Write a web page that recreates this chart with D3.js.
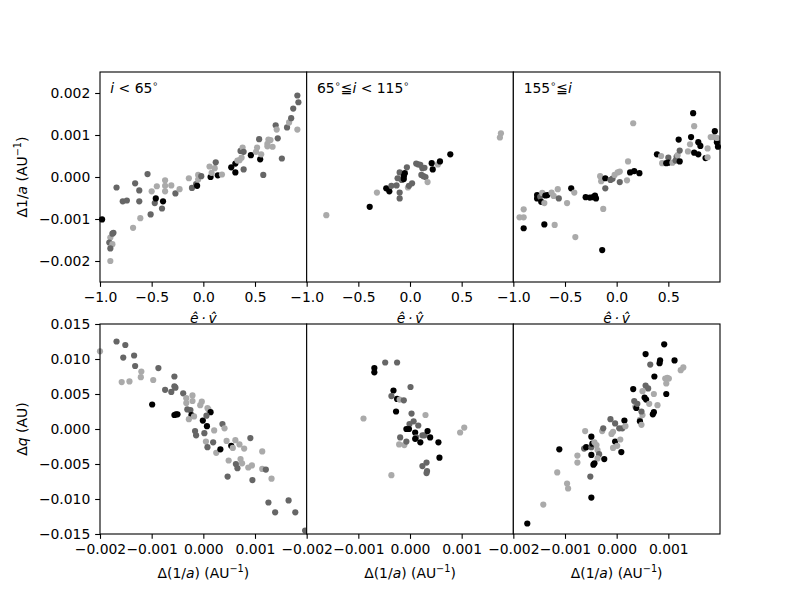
<!DOCTYPE html>
<html>
<head>
<meta charset="utf-8">
<script src="https://cdn.jsdelivr.net/npm/d3@7"></script>
<style>
  body { margin: 0; background: #fff; }
  text { font-family: "DejaVu Sans", sans-serif; }
</style>
</head>
<body>
<div id="chart"></div>
<script>
// groups: k = black, d = dark grey, l = light grey
const groupColors = { k: "#000000", d: "#666666", l: "#aaaaaa" };

// top row: e.v (x) vs delta 1/a (y)
const topLow = [
  [-0.98,-0.00101,"k"],[-0.90,-0.00144,"l"],[-0.87,-0.00133,"d"],[-0.88,-0.00135,"d"],
  [-0.91,-0.00156,"d"],[-0.88,-0.00160,"l"],[-0.90,-0.00170,"d"],[-0.90,-0.00200,"l"],
  [-0.84,-0.00025,"d"],[-0.78,-0.00058,"d"],[-0.74,-0.00056,"d"],[-0.68,-0.00121,"l"],
  [-0.66,-0.00015,"d"],[-0.62,-0.00032,"d"],[-0.62,-0.00058,"d"],[-0.61,-0.00098,"l"],
  [-0.54,0.00007,"d"],[-0.51,-0.00089,"d"],[-0.50,-0.00034,"l"],[-0.47,-0.00062,"d"],
  [-0.46,-0.00051,"k"],[-0.45,-0.00022,"l"],[-0.40,-0.00075,"d"],[-0.39,-0.00058,"k"],
  [-0.37,-0.00008,"l"],[-0.37,-0.00021,"l"],[-0.37,-0.00034,"l"],[-0.31,-0.00020,"l"],
  [-0.27,-0.00039,"d"],[-0.23,-0.00029,"l"],[-0.14,-0.00003,"l"],[-0.11,-0.00026,"d"],
  [-0.07,-0.00017,"d"],[-0.06,-0.00021,"k"],[-0.05,0.00005,"l"],[-0.05,-0.00006,"l"],
  [-0.02,0.00002,"d"],[0.06,0.00025,"l"],[0.07,0.00000,"k"],[0.08,0.00010,"l"],
  [0.11,0.00021,"l"],[0.12,0.00035,"d"],[0.14,0.00004,"k"],[0.18,0.00006,"l"],
  [0.27,0.00023,"k"],[0.31,0.00032,"k"],[0.31,0.00011,"k"],[0.33,0.00039,"l"],
  [0.35,0.00040,"l"],[0.36,0.00062,"d"],[0.37,0.00046,"l"],[0.38,0.00070,"l"],
  [0.39,0.00018,"d"],[0.39,0.00060,"d"],[0.46,0.00052,"k"],[0.51,0.00060,"l"],
  [0.52,0.00070,"l"],[0.54,0.00090,"d"],[0.55,0.00042,"k"],[0.56,0.00054,"l"],
  [0.58,0.00005,"d"],[0.62,0.00079,"l"],[0.63,0.00089,"l"],[0.65,0.00088,"l"],
  [0.62,0.00073,"l"],[0.67,0.00072,"l"],[0.70,0.00123,"d"],[0.71,0.00113,"l"],
  [0.72,0.00092,"d"],[0.76,0.00044,"d"],[0.81,0.00118,"d"],[0.83,0.00130,"l"],
  [0.85,0.00140,"d"],[0.87,0.00163,"d"],[0.91,0.00113,"l"],[0.91,0.00194,"d"],
  [0.92,0.00178,"d"]
];
const topMid = [
  [-0.81,-0.00091,"l"],[-0.39,-0.00071,"k"],[-0.32,-0.00037,"l"],[-0.23,-0.00027,"k"],
  [-0.20,-0.00034,"k"],[-0.18,-0.00021,"d"],[-0.13,-0.00020,"d"],[-0.12,-0.00003,"d"],
  [-0.10,0.00011,"d"],[-0.10,-0.00037,"d"],[-0.10,-0.00051,"d"],[-0.08,-0.00007,"d"],
  [-0.06,-0.00005,"k"],[-0.06,0.00002,"k"],[-0.05,0.00009,"k"],[-0.03,0.00023,"d"],
  [-0.02,-0.00025,"l"],[-0.01,-0.00021,"d"],[0.02,-0.00015,"d"],[0.06,0.00032,"d"],
  [0.08,0.00030,"d"],[0.10,0.00029,"d"],[0.12,0.00021,"d"],[0.14,0.00022,"d"],
  [0.11,0.00005,"d"],[0.13,0.00002,"d"],[0.15,0.00000,"d"],[0.17,-0.00012,"l"],
  [0.21,0.00033,"k"],[0.22,0.00018,"k"],[0.27,0.00030,"l"],[0.29,0.00037,"k"],
  [0.39,0.00054,"k"],[0.88,0.00104,"l"],[0.87,0.00094,"l"]
];
const topHigh = [
  [-0.94,-0.00096,"l"],[-0.90,-0.00096,"l"],[-0.90,-0.00077,"l"],[-0.90,-0.00122,"k"],
  [-0.77,-0.00043,"k"],[-0.77,-0.00051,"k"],[-0.74,-0.00047,"d"],[-0.73,-0.00059,"k"],
  [-0.72,-0.00038,"l"],[-0.70,-0.00062,"l"],[-0.69,-0.00044,"k"],[-0.67,-0.00043,"k"],
  [-0.70,-0.00113,"k"],[-0.63,-0.00037,"l"],[-0.61,-0.00045,"l"],[-0.60,-0.00114,"l"],
  [-0.57,-0.00029,"l"],[-0.56,-0.00051,"d"],[-0.48,-0.00062,"l"],[-0.44,-0.00027,"k"],
  [-0.41,-0.00037,"l"],[-0.40,-0.00143,"l"],[-0.30,-0.00048,"k"],[-0.26,-0.00049,"k"],
  [-0.23,-0.00048,"k"],[-0.21,-0.00044,"k"],[-0.20,-0.00051,"k"],[-0.16,0.00002,"l"],
  [-0.15,-0.00010,"l"],[-0.14,-0.00174,"k"],[-0.13,-0.00076,"l"],[-0.11,-0.00003,"k"],
  [-0.11,-0.00027,"d"],[-0.06,-0.00007,"d"],[-0.04,-0.00004,"d"],[-0.02,0.00005,"l"],
  [0.01,0.00011,"l"],[0.03,0.00013,"l"],[0.03,-0.00012,"d"],[0.10,-0.00008,"l"],
  [0.11,0.00037,"l"],[0.13,0.00011,"k"],[0.17,0.00014,"k"],[0.16,0.00128,"l"],
  [0.22,0.00009,"k"],[0.39,0.00054,"k"],[0.43,0.00050,"l"],[0.44,0.00033,"l"],
  [0.48,0.00033,"k"],[0.50,0.00046,"d"],[0.50,0.00034,"k"],[0.54,0.00034,"l"],
  [0.57,0.00039,"d"],[0.58,0.00048,"d"],[0.59,0.00052,"l"],[0.61,0.00037,"k"],
  [0.60,0.00089,"k"],[0.61,0.00063,"d"],[0.69,0.00061,"l"],[0.71,0.00078,"l"],
  [0.72,0.00095,"k"],[0.74,0.00152,"k"],[0.75,0.00121,"l"],[0.75,0.00058,"k"],
  [0.79,0.00054,"k"],[0.79,0.00083,"k"],[0.81,0.00074,"k"],[0.86,0.00045,"k"],
  [0.88,0.00047,"l"],[0.88,0.00068,"l"],[0.91,0.00095,"l"],[0.94,0.00095,"l"],
  [0.95,0.00109,"k"],[0.97,0.00083,"k"],[0.98,0.00072,"k"],[0.97,0.00093,"l"]
];

// bottom row: delta 1/a (x) vs delta q (y)
const bottomLow = [
  [-0.00200,0.0111,"l"],[-0.00168,0.0125,"d"],[-0.00151,0.0120,"d"],[-0.00155,0.0102,"d"],
  [-0.00134,0.0105,"d"],[-0.00132,0.0090,"d"],[-0.00120,0.0082,"l"],[-0.00121,0.0074,"l"],
  [-0.00158,0.0067,"l"],[-0.00143,0.0068,"l"],[-0.00097,0.0070,"l"],[-0.00087,0.0087,"d"],
  [-0.00099,0.0035,"k"],[-0.00074,0.0056,"d"],[-0.00062,0.0053,"d"],[-0.00056,0.0075,"d"],
  [-0.00056,0.0061,"d"],[-0.00054,0.0059,"d"],[-0.00056,0.0020,"k"],[-0.00053,0.0021,"k"],
  [-0.00050,0.0021,"k"],[-0.00039,0.0051,"d"],[-0.00033,0.0044,"l"],[-0.00033,0.0037,"l"],
  [-0.00031,0.0028,"d"],[-0.00025,0.0027,"d"],[-0.00021,0.0048,"l"],[-0.00021,0.0040,"l"],
  [-0.00023,0.0020,"k"],[-0.00018,0.0018,"l"],[-0.00028,0.0014,"l"],[-0.00016,-0.0003,"d"],
  [-0.00014,-0.0009,"d"],[-0.00006,0.0034,"l"],[-0.00003,0.0039,"l"],[-0.00001,0.0012,"k"],
  [0.00002,-0.0006,"d"],[0.00007,0.0004,"k"],[0.00008,0.0030,"l"],[0.00010,0.0028,"l"],
  [0.00014,0.0024,"k"],[0.00006,0.0019,"d"],[0.00005,-0.0018,"l"],[0.00008,-0.0026,"d"],
  [0.00019,-0.0019,"d"],[0.00021,-0.0002,"l"],[0.00025,-0.0034,"l"],[0.00033,-0.0029,"k"],
  [0.00037,0.0007,"d"],[0.00041,0.0001,"l"],[0.00045,-0.0017,"l"],[0.00049,-0.0045,"l"],
  [0.00047,-0.0068,"d"],[0.00054,-0.0024,"k"],[0.00057,-0.0027,"l"],[0.00062,-0.0016,"l"],
  [0.00063,-0.0050,"d"],[0.00066,-0.0056,"d"],[0.00070,-0.0022,"l"],[0.00072,-0.0043,"l"],
  [0.00075,-0.0049,"l"],[0.00079,-0.0028,"l"],[0.00087,-0.0055,"l"],[0.00094,-0.0052,"l"],
  [0.00091,-0.0013,"d"],[0.00095,-0.0073,"d"],[0.00114,-0.0032,"l"],[0.00114,-0.0057,"l"],
  [0.00121,-0.0058,"d"],[0.00132,-0.0071,"l"],[0.00126,-0.0105,"d"],[0.00139,-0.0119,"d"],
  [0.00165,-0.0102,"d"],[0.00178,-0.0119,"d"],[0.00197,-0.0145,"d"]
];
const bottomMid = [
  [-0.00090,0.0015,"l"],[-0.00069,0.0087,"k"],[-0.00069,0.0081,"k"],[-0.00048,0.0095,"d"],
  [-0.00025,0.0095,"d"],[-0.00032,0.0055,"k"],[-0.00036,0.0047,"d"],[-0.00025,0.0043,"k"],
  [-0.00020,0.0042,"l"],[-0.00012,0.0041,"d"],[-0.00027,0.0025,"k"],[0.00001,0.0060,"d"],
  [0.00003,0.0022,"d"],[0.00007,0.0011,"d"],[-0.00001,0.0007,"d"],[-0.00007,0.0000,"k"],
  [-0.00002,0.0000,"k"],[0.00016,0.0005,"d"],[0.00010,-0.0005,"k"],[0.00012,-0.0012,"d"],
  [0.00010,-0.0014,"k"],[0.00020,-0.0019,"k"],[0.00024,-0.0009,"d"],[0.00028,-0.0009,"d"],
  [0.00030,0.0020,"l"],[0.00034,-0.0003,"k"],[0.00039,-0.0012,"k"],[-0.00019,-0.0012,"d"],
  [-0.00021,-0.0022,"l"],[-0.00011,-0.0023,"l"],[-0.00007,-0.0018,"d"],[0.00055,-0.0019,"k"],
  [0.00057,-0.0041,"k"],[0.00024,-0.0053,"d"],[0.00032,-0.0048,"d"],[0.00033,-0.0060,"d"],
  [0.00032,-0.0063,"d"],[-0.00036,-0.0066,"l"],[0.00097,-0.0005,"l"],[0.00105,0.0002,"l"]
];
const bottomHigh = [
  [-0.00173,-0.0135,"k"],[-0.00142,-0.0108,"l"],[-0.00115,-0.0062,"l"],[-0.00096,-0.0078,"l"],
  [-0.00094,-0.0085,"l"],[-0.00111,-0.0029,"k"],[-0.00076,-0.0038,"l"],[-0.00076,-0.0048,"l"],
  [-0.00061,-0.0003,"l"],[-0.00063,-0.0028,"d"],[-0.00059,-0.0026,"k"],[-0.00049,-0.0011,"k"],
  [-0.00049,-0.0026,"d"],[-0.00047,-0.0021,"k"],[-0.00049,-0.0037,"k"],[-0.00043,-0.0019,"l"],
  [-0.00039,-0.0023,"l"],[-0.00037,-0.0030,"l"],[-0.00034,-0.0036,"d"],[-0.00037,-0.0042,"l"],
  [-0.00043,-0.0049,"k"],[-0.00045,-0.0051,"k"],[-0.00051,-0.0068,"d"],[-0.00049,-0.0098,"k"],
  [-0.00024,-0.0043,"k"],[-0.00028,-0.0003,"l"],[-0.00026,0.0001,"d"],[-0.00012,0.0014,"d"],
  [-0.00010,-0.0007,"l"],[-0.00007,-0.0004,"l"],[-0.00003,0.0008,"d"],[-0.00003,-0.0018,"k"],
  [0.00001,-0.0024,"l"],[-0.00007,-0.0027,"l"],[0.00005,0.0001,"d"],[0.00007,-0.0015,"l"],
  [0.00009,-0.0033,"k"],[0.00011,0.0001,"d"],[0.00015,0.0012,"k"],[0.00017,0.0004,"l"],
  [0.00032,0.0057,"k"],[0.00034,0.0040,"d"],[0.00036,0.0032,"l"],[0.00038,0.0030,"k"],
  [0.00040,0.0036,"d"],[0.00045,0.0013,"l"],[0.00045,0.0011,"k"],[0.00048,0.0006,"l"],
  [0.00050,0.0020,"l"],[0.00048,0.0025,"d"],[0.00050,0.0054,"l"],[0.00054,0.0045,"k"],
  [0.00056,0.0062,"d"],[0.00056,0.0107,"k"],[0.00057,0.0042,"k"],[0.00061,0.0058,"d"],
  [0.00063,0.0036,"l"],[0.00065,0.0092,"d"],[0.00070,0.0021,"k"],[0.00072,0.0024,"k"],
  [0.00072,0.0050,"l"],[0.00073,0.0075,"k"],[0.00079,0.0034,"l"],[0.00083,0.0094,"k"],
  [0.00084,0.0098,"k"],[0.00092,0.0121,"k"],[0.00094,0.0072,"l"],[0.00098,0.0073,"l"],
  [0.00101,0.0072,"l"],[0.00096,0.0065,"l"],[0.00096,0.0050,"k"],[0.00112,0.0098,"k"],
  [0.00124,0.0084,"l"],[0.00129,0.0088,"l"]
];

// tick labels (the right-hand end of each panel is left to the next panel)
const topXTicks = [-1, -0.5, 0, 0.5];
const topYTicks = [-0.002, -0.001, 0, 0.001, 0.002];
const bottomXTicks = [-0.002, -0.001, 0, 0.001];
const bottomYTicks = [-0.015, -0.010, -0.005, 0, 0.005, 0.010, 0.015];

// panel titles: [text, style] where style n = normal, i = italic, s = superscript
const panelTitles = [
  [["i","i"],[" < 65","n"],["∘","s"]],
  [["65","n"],["∘","s"],["≦","n"],["i","i"],[" < 115","n"],["∘","s"]],
  [["155","n"],["∘","s"],["≦","n"],["i","i"]]
];

const width = 800, height = 600;
const left = 100, right = 720;
const panelW = (right - left) / 3;
const fontSize = 13.9;
const tickLen = 4.86;

const svg = d3.select("#chart").append("svg")
  .attr("width", width)
  .attr("height", height);

svg.append("rect").attr("width", width).attr("height", height).attr("fill", "#fff");

const rows = [
  { top: 72, bottom: 282, xDomain: [-1, 1], yDomain: [-0.0025, 0.0025],
    xTicks: topXTicks, yTicks: topYTicks, xFmt: d3.format(".1f"), yFmt: d3.format(".3f"),
    panels: [topLow, topMid, topHigh] },
  { top: 324, bottom: 534, xDomain: [-0.002, 0.002], yDomain: [-0.015, 0.015],
    xTicks: bottomXTicks, yTicks: bottomYTicks, xFmt: d3.format(".3f"), yFmt: d3.format(".3f"),
    panels: [bottomLow, bottomMid, bottomHigh] }
];

function richText(sel, parts, size) {
  let shifted = false;
  parts.forEach(([t, s]) => {
    const ts = sel.append("tspan").text(t);
    if (s === "i") ts.attr("font-style", "italic");
    if (s === "s") {
      ts.attr("font-size", size * 0.7).attr("dy", -size * 0.4);
      shifted = true;
    } else if (shifted) {
      ts.attr("dy", size * 0.4);
      shifted = false;
    }
  });
  return sel;
}

rows.forEach((row, r) => {
  const y = d3.scaleLinear().domain(row.yDomain).range([row.bottom, row.top]);

  row.panels.forEach((data, c) => {
    const x0 = left + c * panelW;
    const x = d3.scaleLinear().domain(row.xDomain).range([x0, x0 + panelW]);
    const g = svg.append("g");

    // Axes background
    g.append("rect")
      .attr("x", x0).attr("y", row.top)
      .attr("width", panelW).attr("height", row.bottom - row.top)
      .attr("fill", "#fff");

    // Points
    g.append("g").selectAll("circle")
      .data(data)
      .join("circle")
      .attr("cx", d => x(d[0]))
      .attr("cy", d => y(d[1]))
      .attr("r", 3.1)
      .attr("fill", d => groupColors[d[2]]);

    // X axis
    const xAxis = g.append("g")
      .attr("transform", `translate(0,${row.bottom})`)
      .call(d3.axisBottom(x).tickValues(row.xTicks).tickFormat(row.xFmt)
        .tickSizeInner(tickLen).tickSizeOuter(0).tickPadding(4.86));
    xAxis.select(".domain").remove();
    xAxis.selectAll("line").attr("stroke", "#000").attr("stroke-width", 1.1);
    xAxis.selectAll("text").attr("font-size", fontSize).attr("fill", "#000")
      .attr("font-family", "DejaVu Sans");

    // Y axis only on the first column
    if (c === 0) {
      const yAxis = g.append("g")
        .attr("transform", `translate(${x0},0)`)
        .call(d3.axisLeft(y).tickValues(row.yTicks).tickFormat(row.yFmt)
          .tickSizeInner(tickLen).tickSizeOuter(0).tickPadding(4.86));
      yAxis.select(".domain").remove();
      yAxis.selectAll("line").attr("stroke", "#000").attr("stroke-width", 1.1);
      yAxis.selectAll("text").attr("font-size", fontSize).attr("fill", "#000")
        .attr("font-family", "DejaVu Sans");
    }

    // Spines
    g.append("rect")
      .attr("x", x0).attr("y", row.top)
      .attr("width", panelW).attr("height", row.bottom - row.top)
      .attr("fill", "none").attr("stroke", "#000").attr("stroke-width", 1.1);

    // Panel title (top row only)
    if (r === 0) {
      richText(g.append("text")
        .attr("x", x0 + panelW * 0.05).attr("y", row.top + 21)
        .attr("font-size", fontSize).attr("fill", "#000"), panelTitles[c], fontSize);
    }

    // X label
    const cx = x0 + panelW / 2;
    if (r === 0) {
      g.append("text")
        .attr("x", cx).attr("y", 323)
        .attr("text-anchor", "middle").attr("font-size", fontSize)
        .attr("font-style", "italic")
        .text("ê\u2009·\u2009v\u0302");
    } else {
      richText(g.append("text")
        .attr("x", cx).attr("y", 578)
        .attr("text-anchor", "middle").attr("font-size", fontSize),
        [["Δ(1/","n"],["a","i"],[") (AU","n"],["−1","s"],[")","n"]], fontSize);
    }
  });
});

// Y labels
richText(svg.append("text")
  .attr("transform", "translate(27,177) rotate(-90)")
  .attr("text-anchor", "middle").attr("font-size", fontSize),
  [["Δ1/","n"],["a","i"],[" (AU","n"],["−1","s"],[")","n"]], fontSize);

richText(svg.append("text")
  .attr("transform", "translate(27,429) rotate(-90)")
  .attr("text-anchor", "middle").attr("font-size", fontSize),
  [["Δ","n"],["q","i"],[" (AU)","n"]], fontSize);
</script>
</body>
</html>
